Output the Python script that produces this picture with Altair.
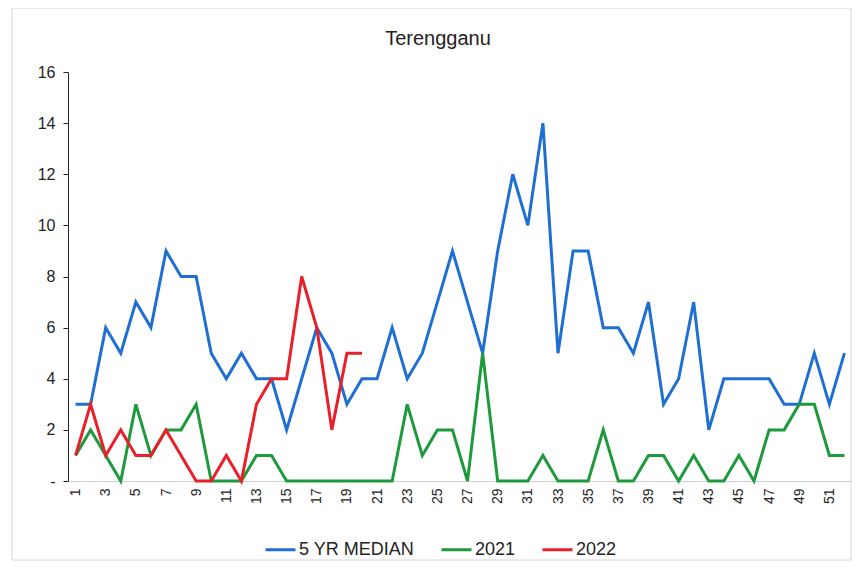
import altair as alt
import pandas as pd

weeks = list(range(1, 53))
median_5yr = [3, 3, 6, 5, 7, 6, 9, 8, 8, 5, 4, 5, 4, 4, 2, 4, 6, 5, 3, 4,
              4, 6, 4, 5, 7, 9, 7, 5, 9, 12, 10, 14, 5, 9, 9, 6, 6, 5, 7, 3,
              4, 7, 2, 4, 4, 4, 4, 3, 3, 5, 3, 5]
y2021 = [1, 2, 1, 0, 3, 1, 2, 2, 3, 0, 0, 0, 1, 1, 0, 0, 0, 0, 0, 0,
         0, 0, 3, 1, 2, 2, 0, 5, 0, 0, 0, 1, 0, 0, 0, 2, 0, 0, 1, 1,
         0, 1, 0, 0, 1, 0, 2, 2, 3, 3, 1, 1]
y2022 = [1, 3, 1, 2, 1, 1, 2, 1, 0, 0, 1, 0, 3, 4, 4, 8, 6, 2, 5, 5]
series_names = ["5 YR MEDIAN", "2021", "2022"]
series_colors = ["#1F6FD2", "#1E9A3C", "#E8202A"]
x_ticks = list(range(1, 53, 2))
y_ticks = list(range(0, 17, 2))
chart_title = "Terengganu"

rows = []
for name, vals in zip(series_names, [median_5yr, y2021, y2022]):
    for w, v in zip(weeks, vals):
        rows.append({"week": w, "value": v, "series": name})
df = pd.DataFrame(rows)

FONT = "Liberation Sans"

lines = alt.Chart(df).mark_line(strokeWidth=3, clip=False).encode(
    x=alt.X("week:Q",
            scale=alt.Scale(domain=[0.5, 52.5], nice=False, zero=False),
            axis=alt.Axis(values=x_ticks, labelAngle=-90, title=None, grid=False,
                          ticks=False, domainColor="#d0d0d0", labelColor="#222",
                          labelFontSize=14, labelFont=FONT, labelPadding=7,
                          labelBaseline="middle", labelAlign="right")),
    y=alt.Y("value:Q",
            scale=alt.Scale(domain=[0, 16], nice=False),
            axis=alt.Axis(values=y_ticks, title=None, grid=False, domainColor="#222",
                          tickColor="#222", tickSize=5, labelColor="#222",
                          labelFontSize=16, labelFont=FONT, labelPadding=8,
                          labelExpr="datum.value == 0 ? '-' : datum.label")),
    color=alt.Color("series:N",
                    scale=alt.Scale(domain=series_names, range=series_colors),
                    sort=series_names,
                    legend=alt.Legend(title=None, orient="none", direction="horizontal",
                                      legendX=196, legendY=461,
                                      symbolType="stroke", symbolStrokeWidth=3,
                                      symbolSize=900, labelFontSize=18, labelFont=FONT,
                                      labelColor="#222", columnPadding=20,
                                      symbolOffset=0, labelOffset=2)),
    order="week:Q",
)

border = alt.Chart(pd.DataFrame({"a": [0]})).mark_rect(
    fill=None, stroke="#d6d6d6", strokeWidth=1, clip=False
).encode(x=alt.value(-56), x2=alt.value(783), y=alt.value(-64), y2=alt.value(488))

title_mark = alt.Chart(pd.DataFrame({"t": [chart_title]})).mark_text(
    fontSize=20, font=FONT, color="#222", align="center", baseline="alphabetic"
).encode(text="t:N", x=alt.value(370), y=alt.value(-27))

chart = alt.layer(border, lines, title_mark).properties(
    width=784, height=409,
    padding={"left": 60, "top": 64, "right": 4, "bottom": 80},
    autosize=alt.AutoSizeParams(type="none"),
).configure_view(stroke=None)

chart.save("out.html", embed_options={"renderer": "svg", "actions": False})
